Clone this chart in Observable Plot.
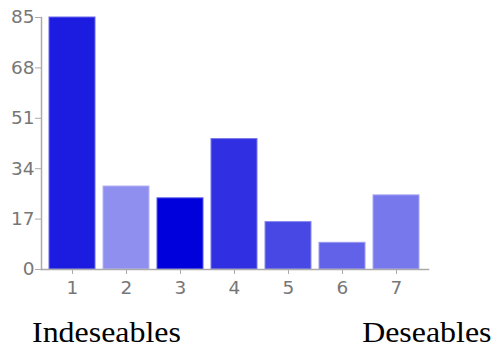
<!DOCTYPE html>
<html>
<head>
<meta charset="utf-8">
<script src="https://cdn.jsdelivr.net/npm/d3@7"></script>
<script src="https://cdn.jsdelivr.net/npm/@observablehq/plot@0.6"></script>
<style>
  html, body { margin: 0; padding: 0; background: #fff; }
  #labels {
    display: flex; justify-content: space-between;
    width: 495px; box-sizing: border-box;
    padding-left: 32px; padding-right: 3px;
    margin-top: 19px;
    font-family: "Liberation Serif", "Times New Roman", serif;
    font-size: 28.5px; line-height: 28px; color: #000;
  }
  #labels span { display: inline-block; transform: scaleX(1.12); }
  #labels span.l { transform-origin: left center; }
  #labels span.r { transform-origin: right center; }
</style>
</head>
<body>
<div id="chart"></div>
<div id="labels"><span class="l">Indeseables</span><span class="r">Deseables</span></div>
<script>
const categories = ["1", "2", "3", "4", "5", "6", "7"];
const values = [85, 28, 24, 44, 16, 9, 25];
const colors = ["#1c1ce0", "#8f8fef", "#0000dc", "#3030e2", "#4848e5", "#6262e9", "#7878ed"];
const yTicks = [0, 17, 34, 51, 68, 85];

const data = categories.map((c, i) => ({
  cat: c,
  value: values[i],
  fill: colors[i],
  stroke: d3.interpolateRgb(colors[i], "#ffffff")(0.35)
}));

const chart = Plot.plot({
  width: 495,
  height: 300,
  marginLeft: 41,
  marginRight: 67,
  marginTop: 17,
  marginBottom: 31,
  style: { fontFamily: "'DejaVu Sans', sans-serif", fontSize: "18.5px", color: "#777", background: "#fff" },
  x: { domain: categories, paddingInner: 0.148, paddingOuter: 0.157, label: null },
  y: { domain: [0, 85], label: null },
  marks: [
    Plot.barY(data, { x: "cat", y: "value", fill: "fill", stroke: "stroke", strokeWidth: 1 }),
    Plot.frame({ anchor: "left", stroke: "#aaa", strokeWidth: 1.5 }),
    Plot.frame({ anchor: "bottom", stroke: "#aaa", strokeWidth: 1.5 }),
    Plot.axisY({ ticks: yTicks, tickSize: 6, tickPadding: 1, stroke: "#aaa", fill: "#777", fontSize: 18.5, label: null }),
    Plot.axisX({ tickSize: 5, tickPadding: 6, stroke: "#aaa", fill: "#777", fontSize: 18.5, label: null })
  ]
});
document.getElementById("chart").appendChild(chart);
</script>
</body>
</html>
